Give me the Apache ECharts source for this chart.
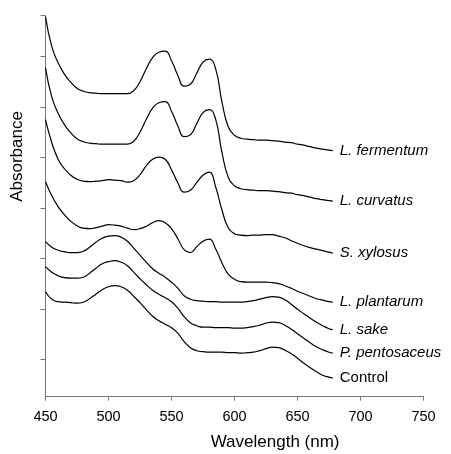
<!DOCTYPE html>
<html>
<head>
<meta charset="utf-8">
<script src="https://cdn.jsdelivr.net/npm/echarts@6/dist/echarts.min.js"></script>
<style>
  html, body { margin: 0; padding: 0; background: #fff; }
  #chart { width: 451px; height: 454px; }
</style>
</head>
<body>
<div id="chart"></div>
<script>
// Wavelength grid (nm)
var wavelengths = [450,455,460,465,470,475,480,485,490,495,
                   500,505,510,515,520,525,530,535,540,545,
                   550,555,560,565,570,575,580,585,590,595,
                   600,605,610,615,620,625,630,635,640,645,
                   650,655,660,665,670,675,678];

// Absorbance values (arbitrary offset scale)
var lFermentum = [0.760,0.700,0.668,0.645,0.629,0.617,0.611,0.608,0.607,0.606,
                  0.606,0.606,0.606,0.606,0.612,0.630,0.656,0.678,0.689,0.691,
                  0.672,0.643,0.621,0.625,0.647,0.669,0.675,0.656,0.590,0.540,
                  0.523,0.517,0.515,0.514,0.513,0.513,0.512,0.511,0.509,0.508,
                  0.505,0.503,0.500,0.497,0.495,0.493,0.492];
var lCurvatus  = [0.658,0.599,0.567,0.544,0.528,0.516,0.510,0.507,0.506,0.505,
                  0.505,0.505,0.505,0.505,0.511,0.529,0.555,0.577,0.588,0.590,
                  0.571,0.542,0.520,0.524,0.546,0.568,0.574,0.555,0.489,0.439,
                  0.422,0.416,0.414,0.413,0.412,0.412,0.411,0.410,0.408,0.407,
                  0.404,0.402,0.399,0.396,0.394,0.392,0.391];
var sXylosus   = [0.554,0.508,0.475,0.456,0.443,0.435,0.431,0.430,0.431,0.432,
                  0.434,0.433,0.432,0.429,0.432,0.444,0.462,0.475,0.479,0.475,
                  0.454,0.428,0.409,0.413,0.428,0.443,0.449,0.420,0.374,0.338,
                  0.326,0.323,0.322,0.323,0.323,0.324,0.324,0.321,0.318,0.312,
                  0.307,0.302,0.298,0.295,0.292,0.289,0.287];
var lPlantarum = [0.430,0.402,0.380,0.364,0.351,0.342,0.337,0.336,0.338,0.341,
                  0.344,0.343,0.341,0.337,0.334,0.336,0.341,0.348,0.352,0.348,
                  0.336,0.316,0.294,0.288,0.300,0.311,0.315,0.296,0.268,0.245,
                  0.235,0.230,0.229,0.229,0.229,0.229,0.228,0.226,0.222,0.217,
                  0.211,0.206,0.201,0.196,0.193,0.190,0.189];
var lSake      = [0.310,0.299,0.293,0.290,0.288,0.288,0.291,0.299,0.309,0.317,
                  0.321,0.322,0.319,0.311,0.297,0.283,0.269,0.256,0.247,0.239,
                  0.229,0.217,0.202,0.195,0.192,0.191,0.190,0.190,0.189,0.189,
                  0.189,0.189,0.190,0.192,0.195,0.198,0.200,0.199,0.194,0.185,
                  0.175,0.166,0.157,0.149,0.142,0.136,0.134];
var pPentosaceus = [0.260,0.249,0.242,0.238,0.237,0.237,0.239,0.247,0.257,0.266,
                  0.270,0.272,0.269,0.262,0.249,0.236,0.224,0.213,0.205,0.198,
                  0.190,0.177,0.160,0.148,0.142,0.139,0.139,0.138,0.138,0.138,
                  0.137,0.137,0.138,0.140,0.143,0.147,0.149,0.148,0.143,0.135,
                  0.126,0.117,0.108,0.100,0.094,0.089,0.087];
var control    = [0.210,0.195,0.190,0.189,0.188,0.187,0.189,0.196,0.205,0.214,
                  0.220,0.222,0.220,0.213,0.201,0.188,0.174,0.161,0.152,0.145,
                  0.138,0.127,0.110,0.098,0.092,0.090,0.089,0.089,0.089,0.088,
                  0.088,0.087,0.088,0.089,0.092,0.096,0.099,0.098,0.093,0.086,
                  0.077,0.067,0.058,0.050,0.043,0.039,0.037];

var seriesNames = ['L. fermentum','L. curvatus','S. xylosus','L. plantarum','L. sake','P. pentosaceus','Control'];
var seriesValues = [lFermentum,lCurvatus,sXylosus,lPlantarum,lSake,pPentosaceus,control];

// Axis ticks
var xTickValues = [450,500,550,600,650,700,750];
var yTickValues = [0.074,0.175,0.276,0.377,0.478,0.579,0.680,0.762];

var FONT = "'Liberation Sans', Arial, Helvetica, sans-serif";

function pairs(vals) {
  return wavelengths.map(function (w, i) { return [w, vals[i]]; });
}

var series = seriesNames.map(function (name, i) {
  return {
    name: name,
    type: 'line',
    data: pairs(seriesValues[i]),
    smooth: 0.5,
    showSymbol: false,
    symbol: 'none',
    silent: true,
    lineStyle: { color: '#000', width: 1.2 },
    endLabel: {
      show: true,
      formatter: '{a}',
      distance: 7,
      color: '#000',
      fontFamily: FONT,
      fontSize: 15,
      fontStyle: name === 'Control' ? 'normal' : 'italic'
    }
  };
});

var chart = echarts.init(document.getElementById('chart'), null, { renderer: 'canvas' });
chart.setOption({
  animation: false,
  backgroundColor: '#fff',
  grid: { left: 45.5, right: 27.5, top: 15.7, bottom: 57.3, containLabel: false },
  xAxis: {
    type: 'value',
    min: 450, max: 750, interval: 50,
    axisLine: { show: true, lineStyle: { color: '#777', width: 1 } },
    axisTick: { show: true, inside: false, length: 4, lineStyle: { color: '#777', width: 1 } },
    axisLabel: { show: true, margin: 13, color: '#000', fontFamily: FONT, fontSize: 14.5,
      customValues: xTickValues },
    splitLine: { show: false }
  },
  yAxis: {
    type: 'value',
    min: 0, max: 0.762,
    axisLine: { show: true, lineStyle: { color: '#777', width: 1 } },
    axisTick: { show: true, inside: false, length: 5, lineStyle: { color: '#777', width: 1 },
      customValues: yTickValues },
    axisLabel: { show: false },
    splitLine: { show: false }
  },
  graphic: [
    {
      type: 'text',
      x: 210.7, y: 442,
      style: { text: 'Wavelength (nm)', font: '17px ' + FONT, fill: '#000', align: 'left', verticalAlign: 'middle' }
    },
    {
      type: 'text',
      x: 17.5, y: 156.5,
      rotation: Math.PI / 2,
      style: { text: 'Absorbance', font: '17px ' + FONT, fill: '#000', align: 'center', verticalAlign: 'middle' }
    }
  ],
  series: series
});
</script>
</body>
</html>
